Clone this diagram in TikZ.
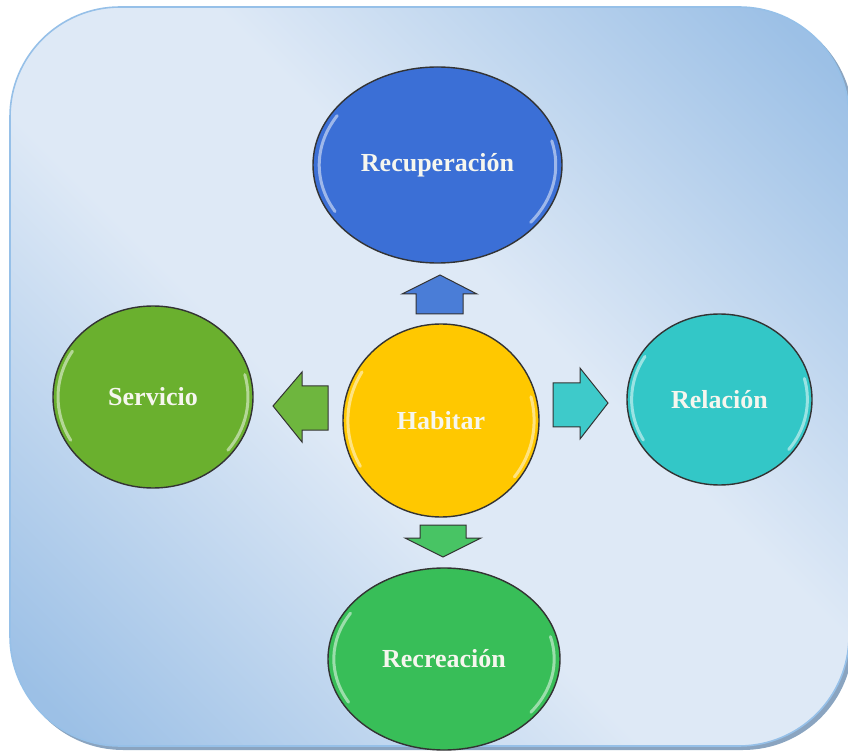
\documentclass[tikz,border=0pt]{standalone}
\usepackage{fontspec}
\setmainfont{Liberation Serif}
\usetikzlibrary{shapes.geometric,calc}
\definecolor{bgdark}{RGB}{156,192,230}
\definecolor{bglight}{RGB}{222,233,246}
\definecolor{bgborder}{RGB}{150,192,232}
\definecolor{shadowc}{RGB}{138,164,192}
\definecolor{cblue}{RGB}{59,111,214}
\definecolor{cgreenA}{RGB}{106,176,46}
\definecolor{cteal}{RGB}{51,199,199}
\definecolor{cgreenB}{RGB}{56,190,88}
\definecolor{cyellow}{RGB}{255,200,0}
\definecolor{ablue}{RGB}{74,125,215}
\definecolor{agreenA}{RGB}{110,182,62}
\definecolor{ateal}{RGB}{62,202,202}
\definecolor{agreenB}{RGB}{72,196,100}
\definecolor{txt}{RGB}{246,246,238}
\pgfdeclareverticalshading{bgshade}{100bp}{color(0bp)=(bgdark); color(18bp)=(bgdark); color(43bp)=(bglight); color(57bp)=(bglight); color(82bp)=(bgdark); color(100bp)=(bgdark)}
\newcommand\glossarc[3]{%
  \draw[glossline] ($(#1.center)+(148:{0.95*#2pt} and {0.95*#3pt})$) arc[start angle=148,end angle=210,x radius={0.95*#2pt},y radius={0.95*#3pt}];
  \draw[glossline] ($(#1.center)+(-38:{0.95*#2pt} and {0.95*#3pt})$) arc[start angle=-38,end angle=15,x radius={0.95*#2pt},y radius={0.95*#3pt}];}
\begin{document}
\begin{tikzpicture}[x=1pt,y=1pt,
  bubble/.style={ellipse, draw=black!80, line width=1.4pt, inner sep=0pt,
    text=txt, font=\fontsize{26}{30}\selectfont\bfseries},
  blockarrow/.style={draw=black!80, line width=1pt, line join=miter},
  glossline/.style={white, opacity=0.5, line width=3pt, line cap=round}]
\useasboundingbox (0,0) rectangle (848,753);
% background panel
\fill[shadowc, rounded corners=110pt] (13,3) rectangle (853,743);
\shade[shading=bgshade, shading angle=-45, rounded corners=110pt] (10,7) rectangle (849,746);
\draw[bgborder, line width=1.6pt, rounded corners=110pt] (10,7) rectangle (849,746);
% nodes
\node[bubble, fill=cblue, minimum width=249pt, minimum height=196pt] (rec) at (437.5,588) {Recuperación};
\node[bubble, fill=cgreenA, minimum width=200pt, minimum height=182pt] (ser) at (153,356) {Servicio};
\node[bubble, fill=cteal, minimum width=185pt, minimum height=171pt] (rel) at (719.5,353.5) {Relación};
\node[bubble, fill=cgreenB, minimum width=232pt, minimum height=182pt] (recr) at (444,94) {Recreación};
\node[bubble, fill=cyellow, minimum width=196pt, minimum height=193pt] (hab) at (441,332.5) {Habitar};
\glossarc{rec}{124.5}{98}
\glossarc{ser}{100}{91}
\glossarc{rel}{92.5}{85.5}
\glossarc{recr}{116}{91}
\glossarc{hab}{98}{96.5}
% block arrows
\draw[blockarrow, fill=ablue] (440,478) -- (477,459) -- (463,459) -- (463,439) -- (416,439) -- (416,459) -- (402,459) -- cycle;
\draw[blockarrow, fill=agreenA] (273,347) -- (302,381) -- (302,367) -- (328,367) -- (328,323) -- (302,323) -- (302,311) -- cycle;
\draw[blockarrow, fill=ateal] (608,350) -- (580,385) -- (580,370) -- (553,370) -- (553,326) -- (580,326) -- (580,314) -- cycle;
\draw[blockarrow, fill=agreenB] (443,196) -- (481,215) -- (466,215) -- (466,228) -- (420,228) -- (420,215) -- (405,215) -- cycle;
\end{tikzpicture}
\end{document}
